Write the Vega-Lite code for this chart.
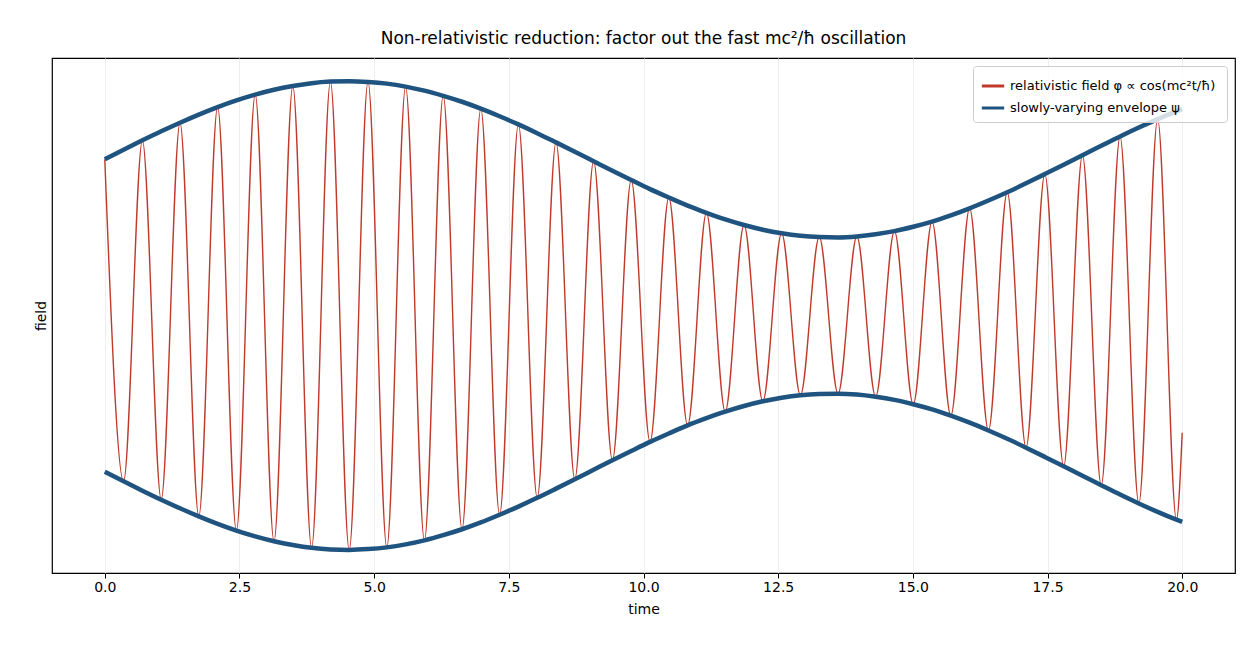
{
  "$schema": "https://vega.github.io/schema/vega-lite/v6.json",
  "width": 1260, "height": 660,
  "autosize": {"type": "fit", "contains": "padding"},
  "padding": {"left": 34, "right": 25, "top": 30, "bottom": 44},
  "title": {"text": "Non-relativistic reduction: factor out the fast mc²/ħ oscillation", "fontSize": 17, "fontWeight": "normal", "font": "DejaVu Sans", "color": "#000", "offset": 10},
  "config": {"font": "DejaVu Sans", "view": {"stroke": "#000", "strokeWidth": 1.2}},
  "data": {"values": [
    {"t":0,"phi":1.000,"up":1.000,"lo":-1.000},
    {"t":0.349,"phi":-1.061,"up":1.061,"lo":-1.061},
    {"t":0.698,"phi":1.121,"up":1.121,"lo":-1.121},
    {"t":1.047,"phi":-1.179,"up":1.179,"lo":-1.179},
    {"t":1.396,"phi":1.234,"up":1.234,"lo":-1.234},
    {"t":1.745,"phi":-1.286,"up":1.286,"lo":-1.286},
    {"t":2.094,"phi":1.334,"up":1.334,"lo":-1.334},
    {"t":2.443,"phi":-1.377,"up":1.377,"lo":-1.377},
    {"t":2.792,"phi":1.414,"up":1.414,"lo":-1.414},
    {"t":3.141,"phi":-1.445,"up":1.445,"lo":-1.445},
    {"t":3.490,"phi":1.469,"up":1.469,"lo":-1.469},
    {"t":3.839,"phi":-1.487,"up":1.487,"lo":-1.487},
    {"t":4.188,"phi":1.497,"up":1.497,"lo":-1.497},
    {"t":4.537,"phi":-1.500,"up":1.500,"lo":-1.500},
    {"t":4.886,"phi":1.495,"up":1.495,"lo":-1.495},
    {"t":5.235,"phi":-1.484,"up":1.484,"lo":-1.484},
    {"t":5.584,"phi":1.465,"up":1.465,"lo":-1.465},
    {"t":5.933,"phi":-1.439,"up":1.439,"lo":-1.439},
    {"t":6.282,"phi":1.406,"up":1.406,"lo":-1.406},
    {"t":6.631,"phi":-1.368,"up":1.368,"lo":-1.368},
    {"t":6.980,"phi":1.324,"up":1.324,"lo":-1.324},
    {"t":7.329,"phi":-1.275,"up":1.275,"lo":-1.275},
    {"t":7.678,"phi":1.223,"up":1.223,"lo":-1.223},
    {"t":8.027,"phi":-1.167,"up":1.167,"lo":-1.167},
    {"t":8.376,"phi":1.108,"up":1.108,"lo":-1.108},
    {"t":8.725,"phi":-1.048,"up":1.048,"lo":-1.048},
    {"t":9.074,"phi":0.987,"up":0.987,"lo":-0.987},
    {"t":9.423,"phi":-0.926,"up":0.926,"lo":-0.926},
    {"t":9.772,"phi":0.867,"up":0.867,"lo":-0.867},
    {"t":10.121,"phi":-0.809,"up":0.809,"lo":-0.809},
    {"t":10.470,"phi":0.755,"up":0.755,"lo":-0.755},
    {"t":10.819,"phi":-0.703,"up":0.703,"lo":-0.703},
    {"t":11.168,"phi":0.657,"up":0.657,"lo":-0.657},
    {"t":11.517,"phi":-0.615,"up":0.615,"lo":-0.615},
    {"t":11.866,"phi":0.579,"up":0.579,"lo":-0.579},
    {"t":12.215,"phi":-0.549,"up":0.549,"lo":-0.549},
    {"t":12.564,"phi":0.526,"up":0.526,"lo":-0.526},
    {"t":12.913,"phi":-0.510,"up":0.510,"lo":-0.510},
    {"t":13.262,"phi":0.502,"up":0.502,"lo":-0.502},
    {"t":13.611,"phi":-0.500,"up":0.500,"lo":-0.500},
    {"t":13.960,"phi":0.506,"up":0.506,"lo":-0.506},
    {"t":14.309,"phi":-0.520,"up":0.520,"lo":-0.520},
    {"t":14.658,"phi":0.540,"up":0.540,"lo":-0.540},
    {"t":15.007,"phi":-0.568,"up":0.568,"lo":-0.568},
    {"t":15.356,"phi":0.601,"up":0.601,"lo":-0.601},
    {"t":15.705,"phi":-0.641,"up":0.641,"lo":-0.641},
    {"t":16.054,"phi":0.686,"up":0.686,"lo":-0.686},
    {"t":16.403,"phi":-0.736,"up":0.736,"lo":-0.736},
    {"t":16.752,"phi":0.789,"up":0.789,"lo":-0.789},
    {"t":17.101,"phi":-0.846,"up":0.846,"lo":-0.846},
    {"t":17.450,"phi":0.905,"up":0.905,"lo":-0.905},
    {"t":17.799,"phi":-0.965,"up":0.965,"lo":-0.965},
    {"t":18.148,"phi":1.026,"up":1.026,"lo":-1.026},
    {"t":18.497,"phi":-1.086,"up":1.086,"lo":-1.086},
    {"t":18.846,"phi":1.146,"up":1.146,"lo":-1.146},
    {"t":19.195,"phi":-1.203,"up":1.203,"lo":-1.203},
    {"t":19.544,"phi":1.257,"up":1.257,"lo":-1.257},
    {"t":19.893,"phi":-1.307,"up":1.307,"lo":-1.307},
    {"t":20,"phi":-0.75,"up":1.321,"lo":-1.321}
  ]},
  "encoding": {
    "x": {"field": "t", "type": "quantitative", "title": "time",
      "scale": {"domain": [-0.98, 20.98], "nice": false, "zero": false},
      "axis": {"values": [0,2.5,5,7.5,10,12.5,15,17.5,20], "format": ".1f", "grid": true, "gridColor": "#eee", "labelFontSize": 14, "titleFontSize": 14, "titleFontWeight": "normal", "labelColor": "#000", "titleColor": "#000", "domain": false, "tickColor": "#000", "labelFlush": false, "titlePadding": 8}}
  },
  "layer": [
    {"mark": {"type": "line", "interpolate": "monotone", "strokeWidth": 1.4},
     "encoding": {"y": {"field": "phi", "type": "quantitative", "title": "field",
        "scale": {"domain": [-1.648, 1.648], "nice": false},
        "axis": {"labels": false, "ticks": false, "grid": false, "domain": false, "titleFontSize": 14, "titleFontWeight": "normal", "titleColor": "#000"}},
      "color": {"datum": "relativistic field  φ ∝ cos(mc²t/ħ)", "type": "nominal",
        "scale": {"domain": ["relativistic field  φ ∝ cos(mc²t/ħ)", "slowly-varying envelope  ψ"], "range": ["#c0392b", "#1f5480"]},
        "legend": {"title": null, "orient": "top-right", "symbolType": "stroke", "symbolStrokeWidth": 3, "symbolSize": 500, "labelFontSize": 13, "labelLimit": 400, "labelColor": "#000", "fillColor": "rgba(255,255,255,0.8)", "strokeColor": "#ccc", "padding": 7, "offset": 8, "cornerRadius": 3}}}},
    {"mark": {"type": "line", "interpolate": "monotone", "strokeWidth": 4.5},
     "encoding": {"y": {"field": "up", "type": "quantitative"},
      "color": {"datum": "slowly-varying envelope  ψ", "type": "nominal"}}},
    {"mark": {"type": "line", "interpolate": "monotone", "strokeWidth": 4.5},
     "encoding": {"y": {"field": "lo", "type": "quantitative"},
      "color": {"datum": "slowly-varying envelope  ψ", "type": "nominal"}}}
  ]
}
